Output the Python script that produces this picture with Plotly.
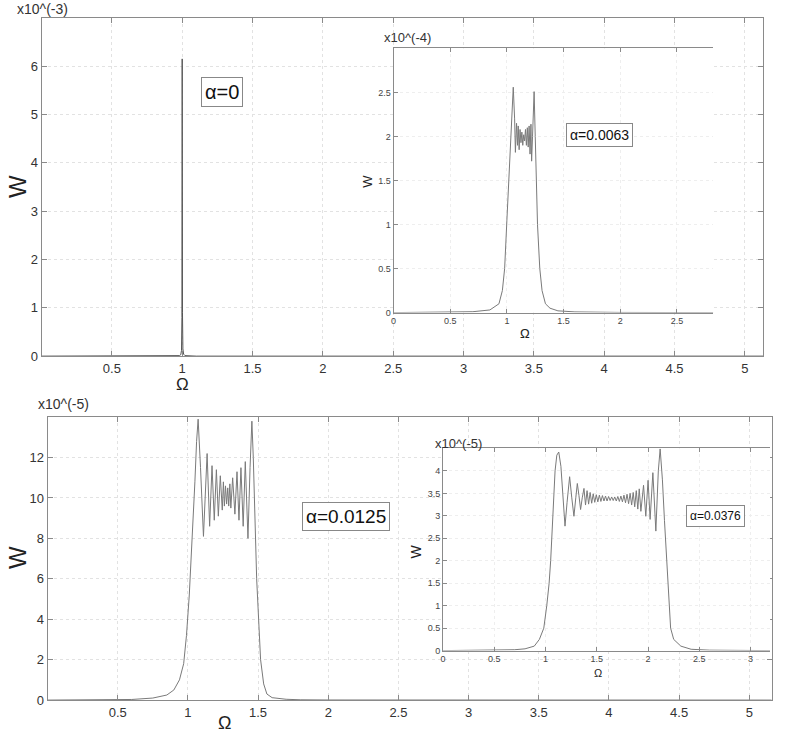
import plotly.graph_objects as go

W_PX, H_PX = 786, 743

# --- data (W values in the units shown by each x10^(n) label) ---
omega_a0 = [0, 0.9, 0.98, 0.99, 0.995, 0.998, 1.0, 1.002, 1.005, 1.01, 1.02, 1.1, 5.13]
w_a0 = [0, 0, 0.01, 0.03, 0.12, 0.8, 6.15, 0.9, 0.15, 0.04, 0.01, 0, 0]

omega_a1 = [0, 0.5, 0.7, 0.85, 0.93, 0.96, 0.98, 1.0, 1.02, 1.04, 1.056, 1.068, 1.075,
            1.085, 1.094, 1.10, 1.108, 1.116, 1.124, 1.132, 1.14, 1.148, 1.156, 1.164,
            1.172, 1.18, 1.188, 1.196, 1.204, 1.212, 1.218, 1.226, 1.24, 1.25, 1.27,
            1.29, 1.31, 1.34, 1.38, 1.45, 1.6, 2.0, 2.82]
w_a1 = [0, 0.004, 0.01, 0.03, 0.1, 0.25, 0.5, 1.05, 1.6, 2.15, 2.56, 2.2, 1.82,
        2.15, 1.9, 2.12, 1.85, 2.08, 1.93, 2.05, 1.9, 2.02, 1.95, 2.08,
        1.9, 2.1, 1.88, 2.12, 1.8, 2.14, 1.72, 2.0, 2.51, 2.0, 1.0,
        0.5, 0.25, 0.1, 0.05, 0.02, 0.008, 0.002, 0]

omega_a2 = [0, 0.4, 0.6, 0.75, 0.85, 0.9, 0.94, 0.97, 0.99, 1.01, 1.03, 1.05, 1.062,
            1.073, 1.09, 1.111, 1.137, 1.155, 1.172, 1.188, 1.203, 1.217, 1.231, 1.245,
            1.253, 1.26, 1.268, 1.276, 1.284, 1.291, 1.299, 1.306, 1.319, 1.335, 1.35,
            1.364, 1.378, 1.394, 1.409, 1.428, 1.443, 1.456, 1.466, 1.473, 1.49, 1.518,
            1.54, 1.563, 1.6, 1.7, 1.8, 2.0, 5.16]
w_a2 = [0, 0.005, 0.03, 0.1, 0.25, 0.5, 1.0, 1.8, 3.2, 5.2, 7.8, 10.8, 12.8,
        13.9, 11.5, 8.1, 12.2, 8.6, 11.6, 8.9, 11.4, 9.1, 11.1, 9.4,
        10.8, 9.6, 10.6, 9.7, 10.5, 9.6, 10.7, 9.5, 11.0, 9.2, 11.3,
        8.9, 11.5, 8.6, 11.8, 8.0, 11.5, 13.8, 12.0, 10.0, 6.0, 2.0,
        0.8, 0.3, 0.12, 0.04, 0.015, 0.005, 0]

omega_a3 = [0, 0.5, 0.7, 0.8, 0.89, 0.94, 0.983, 1.012, 1.035, 1.05, 1.07, 1.093, 1.11,
            1.129, 1.15, 1.17, 1.19, 1.21, 1.235, 1.256, 1.277, 1.295, 1.31, 1.326,
            1.342, 1.358, 1.375, 1.39, 1.405, 1.42, 1.435, 1.45, 1.465, 1.48, 1.495,
            1.51, 1.525, 1.54, 1.555, 1.57, 1.585, 1.60, 1.615, 1.63, 1.645, 1.66,
            1.675, 1.69, 1.705, 1.72, 1.735, 1.75, 1.765, 1.78, 1.795, 1.81, 1.825,
            1.84, 1.855, 1.87, 1.885, 1.90, 1.914, 1.93, 1.956, 1.978, 2.0, 2.02,
            2.047, 2.076, 2.10, 2.118, 2.14, 2.16, 2.18, 2.2, 2.22, 2.25, 2.32, 2.42,
            2.6, 3.2]
w_a3 = [0, 0.005, 0.02, 0.04, 0.1, 0.25, 0.5, 1.0, 1.5, 2.0, 3.0, 4.0, 4.35,
        4.42, 4.1, 3.3, 2.77, 3.3, 3.87, 3.4, 2.99, 3.4, 3.72, 3.45,
        3.14, 3.4, 3.61, 3.24, 3.56, 3.26, 3.52, 3.28, 3.49, 3.30, 3.47,
        3.31, 3.46, 3.32, 3.45, 3.33, 3.44, 3.33, 3.43, 3.34, 3.42, 3.34,
        3.42, 3.33, 3.43, 3.32, 3.44, 3.31, 3.46, 3.29, 3.48, 3.27, 3.50,
        3.24, 3.52, 3.2, 3.56, 3.15, 3.6, 3.10, 3.68, 2.99, 3.79, 2.92,
        3.96, 2.66, 4.0, 4.49, 3.8, 2.9, 2.0, 1.1, 0.5, 0.25, 0.1, 0.03,
        0.01, 0]

alpha_labels = ["α=0", "α=0.0063", "α=0.0125", "α=0.0376"]
exp_labels = ["x10^(-3)", "x10^(-4)", "x10^(-5)", "x10^(-5)"]

main_xticks = [0.5, 1, 1.5, 2, 2.5, 3, 3.5, 4, 4.5, 5]
top_yticks = [0, 1, 2, 3, 4, 5, 6]
bot_yticks = [0, 2, 4, 6, 8, 10, 12]
in1_xticks = [0, 0.5, 1, 1.5, 2, 2.5]
in1_yticks = [0, 0.5, 1, 1.5, 2, 2.5]
in2_xticks = [0, 0.5, 1, 1.5, 2, 2.5, 3]
in2_yticks = [0, 0.5, 1, 1.5, 2, 2.5, 3, 3.5, 4]


def px(x):
    return x / W_PX


def py(y):
    return 1 - y / H_PX


FONT = "Liberation Sans, Arial, sans-serif"
AX = "#8a8a8a"
LINE = "#7a7a7a"

fig = go.Figure()
fig.add_trace(go.Scatter(x=omega_a0, y=w_a0, mode="lines", line=dict(color="#555", width=1),
                         xaxis="x", yaxis="y"))
fig.add_trace(go.Scatter(x=omega_a1, y=w_a1, mode="lines", line=dict(color=LINE, width=1),
                         xaxis="x2", yaxis="y2"))
fig.add_trace(go.Scatter(x=omega_a2, y=w_a2, mode="lines", line=dict(color=LINE, width=1),
                         xaxis="x3", yaxis="y3"))
fig.add_trace(go.Scatter(x=omega_a3, y=w_a3, mode="lines", line=dict(color=LINE, width=1),
                         xaxis="x4", yaxis="y4"))


def main_axis(dom, rng, ticks, anchor):
    return dict(domain=dom, range=rng, tickvals=ticks, anchor=anchor,
                showline=True, linecolor=AX, linewidth=1, mirror="ticks",
                ticks="inside", ticklen=5, tickcolor=AX,
                showgrid=True, gridcolor="#e2e2e2", griddash="dot", gridwidth=1,
                zeroline=False, tickfont=dict(size=13, color="#333", family=FONT))


def inset_axis(dom, rng, ticks, anchor, mirror):
    return dict(domain=dom, range=rng, tickvals=ticks, anchor=anchor,
                showline=True, linecolor=AX, linewidth=1, mirror=mirror,
                ticks="inside", ticklen=4, tickcolor=AX,
                showgrid=True, gridcolor="#eeeeee", griddash="dot", gridwidth=1,
                zeroline=False, tickfont=dict(size=9, color="#444", family=FONT))


layout = dict(
    width=W_PX, height=H_PX, autosize=False,
    margin=dict(l=0, r=0, t=0, b=0),
    paper_bgcolor="white", plot_bgcolor="white", showlegend=False,
    xaxis=main_axis([px(38.7), px(763)], [0, 5.13], main_xticks, "y"),
    yaxis=main_axis([py(360), py(18)], [0, 7], top_yticks, "x"),
    xaxis2=inset_axis([px(392), px(713)], [0, 2.82], in1_xticks, "y2", "ticks"),
    yaxis2=inset_axis([py(316), py(49)], [0, 3], in1_yticks, "x2", False),
    xaxis3=main_axis([px(44.7), px(771.7)], [0, 5.16], main_xticks, "y3"),
    yaxis3=main_axis([py(707.7), py(421.7)], [0, 14], bot_yticks, "x3"),
    xaxis4=inset_axis([px(441.7), px(770)], [0, 3.19], in2_xticks, "y4", "ticks"),
    yaxis4=inset_axis([py(657.7), py(453.3)], [0, 4.5], in2_yticks, "x4", False),
)
fig.update_layout(**layout)

ann = []


def text(x, y, s, size, angle=0, anchor="center", color="#222"):
    ann.append(dict(x=px(x), y=py(y), xref="paper", yref="paper", text=s, showarrow=False,
                    xanchor=anchor, yanchor="middle", textangle=angle,
                    font=dict(size=size, color=color, family=FONT)))


def box(x, y, s, size):
    ann.append(dict(x=px(x), y=py(y), xref="paper", yref="paper", text=s, showarrow=False,
                    xanchor="center", yanchor="middle", bgcolor="white",
                    bordercolor="#888", borderwidth=1, borderpad=3,
                    font=dict(size=size, color="#111", family=FONT)))


# exponent labels
text(12, 9, exp_labels[0], 14, anchor="left", color="#333")
text(380, 38, exp_labels[1], 13, anchor="left", color="#333")
text(33, 408, exp_labels[2], 14, anchor="left", color="#333")
text(432, 448, exp_labels[3], 13, anchor="left", color="#333")

# axis titles
text(15, 188, "W", 24, angle=-90)
text(15, 563, "W", 24, angle=-90)
text(365, 183, "W", 13, angle=-90)
text(415, 557, "W", 14, angle=-90)
text(180, 389, "Ω", 17)
text(222, 731, "Ω", 18)
text(524, 337, "Ω", 13)
text(597, 680, "Ω", 11)

# alpha boxes
box(219.5, 93.5, alpha_labels[0], 20)
box(599, 136, alpha_labels[1], 14)
box(344.5, 522.5, alpha_labels[2], 19)
box(715, 521.5, alpha_labels[3], 12)

fig.update_layout(annotations=ann)
fig.write_html("out.html", config={"displayModeBar": False},
               post_script="document.body.style.margin='0px';")
